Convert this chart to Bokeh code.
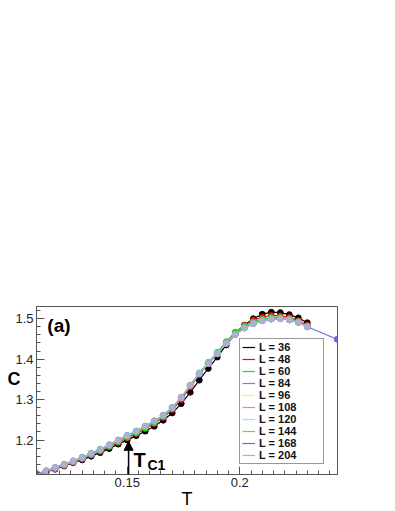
from bokeh.plotting import figure
from bokeh.models import (Legend, LegendItem, Label, Arrow, NormalHead,
                          FixedTicker, Range1d, CustomJSTickFormatter)
from bokeh.embed import file_html
from bokeh.resources import INLINE

# ---------------- data ----------------
T = [0.110, 0.114, 0.118, 0.122, 0.126, 0.130, 0.134, 0.138, 0.142, 0.146,
     0.150, 0.154, 0.158, 0.162, 0.166, 0.170, 0.174, 0.178, 0.182, 0.186,
     0.190, 0.194, 0.198, 0.202, 0.206, 0.210, 0.214, 0.218, 0.222, 0.226,
     0.230]
T_TAIL = [0.2432]

C36 = [1.113, 1.121, 1.128, 1.136, 1.144, 1.151, 1.160, 1.169, 1.179, 1.190,
       1.200, 1.211, 1.222, 1.234, 1.249, 1.267, 1.290, 1.318, 1.348, 1.377,
       1.405, 1.435, 1.462, 1.484, 1.500, 1.511, 1.516, 1.515, 1.510, 1.502,
       1.490]
C48 = [1.114, 1.122, 1.130, 1.137, 1.145, 1.153, 1.163, 1.172, 1.183, 1.194,
       1.205, 1.216, 1.228, 1.241, 1.256, 1.275, 1.300, 1.331, 1.362, 1.389,
       1.415, 1.442, 1.466, 1.484, 1.496, 1.504, 1.508, 1.507, 1.503, 1.495,
       1.484]
C60 = [1.115, 1.123, 1.131, 1.138, 1.146, 1.155, 1.164, 1.174, 1.185, 1.196,
       1.207, 1.218, 1.230, 1.243, 1.258, 1.278, 1.304, 1.335, 1.366, 1.392,
       1.417, 1.443, 1.466, 1.482, 1.492, 1.499, 1.503, 1.503, 1.500, 1.493,
       1.482]
C84 = [1.116, 1.123, 1.131, 1.139, 1.147, 1.156, 1.166, 1.176, 1.187, 1.199,
       1.210, 1.221, 1.233, 1.246, 1.260, 1.279, 1.304, 1.335, 1.364, 1.390,
       1.414, 1.440, 1.462, 1.478, 1.489, 1.496, 1.500, 1.500, 1.497, 1.491,
       1.480]
C96 = [1.116, 1.124, 1.132, 1.140, 1.148, 1.157, 1.166, 1.177, 1.188, 1.199,
       1.211, 1.222, 1.234, 1.247, 1.261, 1.280, 1.305, 1.336, 1.365, 1.390,
       1.414, 1.439, 1.461, 1.477, 1.488, 1.495, 1.499, 1.500, 1.497, 1.491,
       1.480]
C108 = [1.114, 1.122, 1.130, 1.139, 1.147, 1.156, 1.166, 1.176, 1.188, 1.199,
        1.211, 1.222, 1.234, 1.247, 1.261, 1.280, 1.305, 1.335, 1.364, 1.389,
        1.413, 1.439, 1.461, 1.477, 1.488, 1.495, 1.499, 1.500, 1.497, 1.491,
        1.480]
C120 = [1.117, 1.125, 1.133, 1.141, 1.149, 1.158, 1.168, 1.178, 1.189, 1.200,
        1.212, 1.223, 1.235, 1.248, 1.262, 1.281, 1.306, 1.336, 1.365, 1.390,
        1.414, 1.439, 1.461, 1.477, 1.488, 1.495, 1.499, 1.500, 1.497, 1.491,
        1.480]
C144 = [1.116, 1.124, 1.132, 1.140, 1.148, 1.157, 1.167, 1.177, 1.188, 1.200,
        1.211, 1.222, 1.234, 1.247, 1.261, 1.280, 1.305, 1.335, 1.364, 1.389,
        1.413, 1.439, 1.461, 1.477, 1.488, 1.495, 1.499, 1.500, 1.497, 1.491,
        1.480]
C168 = [1.116, 1.124, 1.132, 1.140, 1.148, 1.157, 1.167, 1.177, 1.188, 1.200,
        1.211, 1.222, 1.234, 1.247, 1.261, 1.280, 1.305, 1.335, 1.364, 1.389,
        1.413, 1.439, 1.461, 1.477, 1.488, 1.495, 1.499, 1.500, 1.497, 1.491,
        1.480, 1.449]
C204 = [1.116, 1.124, 1.132, 1.140, 1.148, 1.157, 1.167, 1.177, 1.188, 1.200,
        1.211, 1.222, 1.234, 1.247, 1.261, 1.280, 1.305, 1.335, 1.364, 1.389,
        1.413, 1.439, 1.461, 1.477, 1.488, 1.495, 1.499, 1.500, 1.497, 1.491,
        1.480]

LABELS = ["L = 36", "L = 48", "L = 60", "L = 84", "L = 96", "L = 108",
          "L = 120", "L = 144", "L = 168", "L = 204"]
SERIES = [C36, C48, C60, C84, C96, C108, C120, C144, C168, C204]
COLORS = ["#000000", "#ff0000", "#00ee00", "#7b7bff", "#ffff00", "#ff66ff",
          "#66ffff", "#55dd55", "#6a6ae8", "#b0b0cc"]

X_MAJOR = [0.15, 0.2]
X_MINOR = [0.110, 0.115, 0.120, 0.125, 0.130, 0.135, 0.140, 0.145, 0.150,
           0.155, 0.160, 0.165, 0.170, 0.175, 0.180, 0.185, 0.190, 0.195,
           0.200, 0.205, 0.210, 0.215, 0.220, 0.225, 0.230, 0.235, 0.240]
Y_MAJOR = [1.2, 1.3, 1.4, 1.5]
Y_MINOR = [1.12, 1.14, 1.16, 1.18, 1.20, 1.22, 1.24, 1.26, 1.28, 1.30, 1.32,
           1.34, 1.36, 1.38, 1.40, 1.42, 1.44, 1.46, 1.48, 1.50, 1.52]

FONT = "Liberation Sans"

p = figure(width=387, height=511,
           x_range=Range1d(0.1097, 0.2434), y_range=Range1d(1.115, 1.530),
           output_backend="svg", toolbar_location=None,
           min_border_left=36, min_border_right=50,
           min_border_top=306, min_border_bottom=34)
p.grid.visible = False
p.outline_line_color = "#555555"
p.background_fill_color = "white"
p.border_fill_color = "white"

fmt = CustomJSTickFormatter(code="return String(Math.round(tick*1000)/1000)")
for ax, maj, mnr in ((p.xaxis[0], X_MAJOR, X_MINOR), (p.yaxis[0], Y_MAJOR, Y_MINOR)):
    ax.ticker = FixedTicker(ticks=maj, minor_ticks=mnr)
    ax.formatter = fmt
    ax.major_tick_in = 8
    ax.major_tick_out = 0
    ax.minor_tick_in = 4
    ax.minor_tick_out = 0
    ax.axis_line_color = "#555555"
    ax.major_tick_line_color = "#555555"
    ax.minor_tick_line_color = "#555555"
    ax.major_label_text_font = FONT
    ax.major_label_text_font_size = "13px"
    ax.major_label_text_color = "#222222"
    ax.major_label_standoff = 3
    ax.axis_label_text_font = FONT
    ax.axis_label_text_color = "black"

xa = p.xaxis[0]
xa.axis_label = "T"
xa.axis_label_text_font_size = "18px"
xa.axis_label_text_font_style = "normal"
xa.axis_label_standoff = -1

ya = p.yaxis[0]
ya.axis_label = "C\n "
ya.axis_label_text_font_size = "18px"
ya.axis_label_text_font_style = "bold"
ya.axis_label_standoff = -8
try:
    ya.axis_label_orientation = "horizontal"
except Exception:
    pass

items = []
for i, (lab, ys, col) in enumerate(zip(LABELS, SERIES, COLORS)):
    xs = T + T_TAIL if len(ys) > len(T) else T
    r = p.line(xs, ys, line_color=col, line_width=1.2)
    p.scatter(xs, ys, size=5.8, marker="circle", fill_color=col, line_color=col)
    items.append(LegendItem(label=lab, renderers=[r]))

legend = Legend(items=items, location=(203, 10),
                label_text_font=FONT, label_text_font_size="11px",
                label_text_font_style="bold", label_text_color="#111111",
                label_height=12, glyph_height=12, glyph_width=13,
                label_standoff=4, label_width=62, spacing=0, padding=2,
                margin=0, border_line_color="#333333", border_line_width=1,
                background_fill_alpha=1.0)
p.add_layout(legend)

p.add_layout(Arrow(end=NormalHead(size=9, fill_color="black", line_color="black"),
                   x_start=0.1506, y_start=1.115, x_end=0.1506, y_end=1.197,
                   line_width=1.5, line_color="black"))

p.add_layout(Label(x=0.1528, y=1.151, text="T", text_font=FONT,
                   text_font_size="20px", text_font_style="bold",
                   text_color="black",
                   text_baseline="alphabetic", text_align="left"))
p.add_layout(Label(x=0.1590, y=1.139, text="C1", text_font=FONT,
                   text_font_size="14px", text_font_style="bold",
                   text_color="black",
                   text_baseline="alphabetic", text_align="left"))
p.add_layout(Label(x=0.1145, y=1.484, text="(a)", text_font=FONT,
                   text_font_size="19px", text_font_style="bold",
                   text_color="black",
                   text_baseline="alphabetic", text_align="left"))

open("out.html", "w").write(file_html(p, INLINE))
